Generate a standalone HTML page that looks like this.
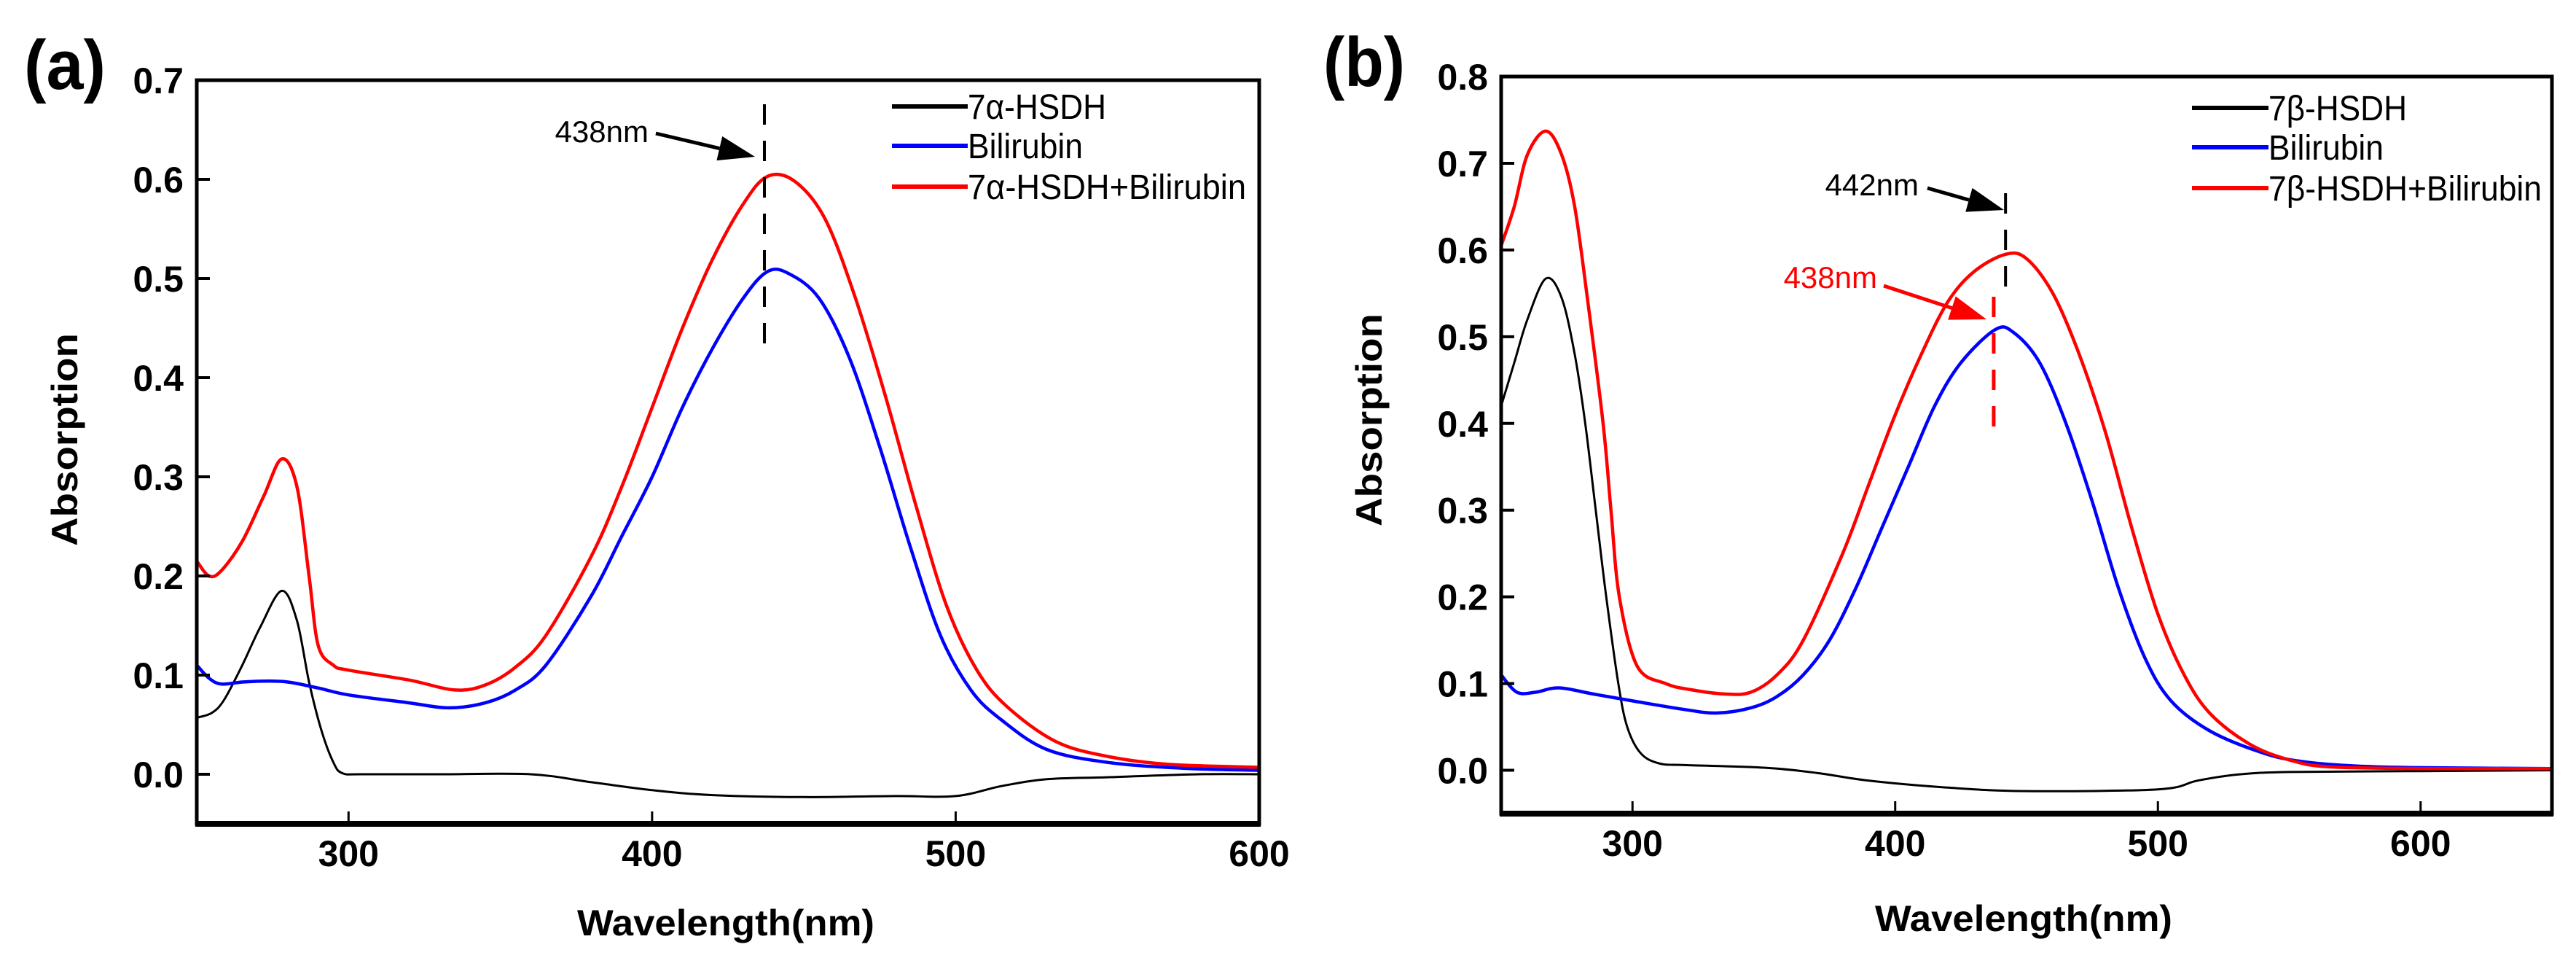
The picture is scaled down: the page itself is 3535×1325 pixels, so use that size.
<!DOCTYPE html>
<html><head><meta charset="utf-8"><style>
html,body{margin:0;padding:0;background:#fff;}
svg{display:block;font-family:"Liberation Sans",Arial,sans-serif;}
</style></head><body>
<svg id="fig" width="3535" height="1325" viewBox="0 0 3535 1325" xmlns="http://www.w3.org/2000/svg"></svg>
<script>
// ---- Panel (a) data ----
const aBlackX=[250,255,259,265,271,278,283,287,291,295,298,305,330,360,380,400,420,450,480,500,515,530,550,580,600];
const aBlackY=[0.057,0.062,0.075,0.11,0.149,0.185,0.155,0.093,0.045,0.012,0.001,0,0,0,-0.008,-0.016,-0.021,-0.023,-0.022,-0.022,-0.012,-0.005,-0.003,0,0];
const aBlueX=[250,254,258,265,272,280,290,300,320,333,345,355,365,380,390,400,410,420,430,438,445,455,465,475,485,495,505,515,530,550,575,600];
const aBlueY=[0.11,0.097,0.091,0.093,0.094,0.093,0.087,0.08,0.072,0.067,0.072,0.085,0.11,0.18,0.24,0.30,0.37,0.43,0.48,0.507,0.505,0.48,0.42,0.33,0.23,0.14,0.085,0.055,0.025,0.012,0.006,0.004];
const aRedX=[250,254,258,265,272,278,283,287,290,295,300,320,335,345,355,365,380,390,400,410,420,430,438,447,457,467,477,487,497,507,517,533,550,570,600];
const aRedY=[0.215,0.2,0.205,0.235,0.28,0.318,0.29,0.2,0.13,0.11,0.105,0.095,0.085,0.09,0.108,0.14,0.22,0.29,0.37,0.45,0.52,0.575,0.603,0.598,0.56,0.48,0.38,0.27,0.17,0.105,0.068,0.033,0.018,0.01,0.007];
// ---- Panel (b) data ----
const bBlackX=[250,255,260,267,273,278,282,286,290,294.6,298,303,310,320,350,370,390,420,450,500,515,530,550,600,650];
const bBlackY=[0.42,0.47,0.52,0.567,0.545,0.48,0.4,0.3,0.2,0.1,0.05,0.02,0.008,0.006,0.003,-0.003,-0.012,-0.02,-0.024,-0.022,-0.012,-0.005,-0.002,-0.001,0];
const bBlueX=[250,256,263,272,285,300,320,332,345,355,365,375,385,395,405,415,425,438,445,455,465,475,485,495,505,520,540,555,575,600,650];
const bBlueY=[0.11,0.09,0.09,0.095,0.088,0.08,0.07,0.066,0.072,0.085,0.11,0.15,0.21,0.28,0.35,0.42,0.47,0.508,0.505,0.47,0.40,0.31,0.21,0.13,0.08,0.045,0.02,0.01,0.005,0.003,0.002];
const bRedX=[250,255,260,267,273,278,283,288.8,291.8,295,301.8,312.6,322,335,345,355,365,380,390,400,410,420,430,442,450,460,470,480,490,500,510,520,535,550,565,600,650];
const bRedY=[0.605,0.65,0.71,0.737,0.71,0.65,0.54,0.4,0.3,0.2,0.12,0.1,0.093,0.088,0.09,0.11,0.15,0.25,0.33,0.41,0.48,0.54,0.575,0.595,0.59,0.55,0.48,0.39,0.28,0.18,0.11,0.065,0.03,0.012,0.004,0.002,0.002];
const aYTicks=["0.0","0.1","0.2","0.3","0.4","0.5","0.6","0.7"];
const bYTicks=["0.0","0.1","0.2","0.3","0.4","0.5","0.6","0.7","0.8"];
const aXTicks=["300","400","500","600"];
const bXTicks=["300","400","500","600"];

const NS="http://www.w3.org/2000/svg";
const svg=document.getElementById('fig');
function mk(tag,attrs,parent,text){const e=document.createElementNS(NS,tag);for(const k in attrs)e.setAttribute(k,attrs[k]);if(text!==undefined)e.textContent=text;(parent||svg).appendChild(e);return e;}
function pathD(X,Y,sx,sy){const p=X.map((x,i)=>[sx(x),sy(Y[i])]);let d="M"+p[0][0].toFixed(1)+","+p[0][1].toFixed(1);
 for(let i=0;i<p.length-1;i++){const p0=p[i-1]||p[i],p1=p[i],p2=p[i+1],p3=p[i+2]||p2;
  const c1=[p1[0]+(p2[0]-p0[0])/6,p1[1]+(p2[1]-p0[1])/6],c2=[p2[0]-(p3[0]-p1[0])/6,p2[1]-(p3[1]-p1[1])/6];
  d+=" C"+c1[0].toFixed(1)+","+c1[1].toFixed(1)+" "+c2[0].toFixed(1)+","+c2[1].toFixed(1)+" "+p2[0].toFixed(1)+","+p2[1].toFixed(1);}
 return d;}

function panel(o){
 const g=mk('g',{});
 
 
 const sx=v=>o.x0+(v-o.xmin)/(o.xmax-o.xmin)*(o.x1-o.x0);
 const sy=v=>o.y1-(v-o.ymin)/(o.ymax-o.ymin)*(o.y1-o.y0);
 // series
 const ser=[[o.bX,o.bY,'#000',3,'series-enzyme'],[o.blX,o.blY,'#0000ff',4.5,'series-bilirubin'],[o.rX,o.rY,'#ff0000',4.5,'series-enzyme-bilirubin']];
 ser.forEach(s=>{const p=mk('path',{d:pathD(s[0],s[1],sx,sy),fill:'none',stroke:s[2],'stroke-width':s[3],'stroke-linejoin':'round'},g);
  
  });
 // frame
 const fr=mk('rect',{x:o.x0,y:o.y0,width:o.x1-o.x0,height:o.y1-o.y0,fill:'none',stroke:'#000','stroke-width':5},g);
 
 
 mk('line',{x1:o.x0-2,x2:o.x1+2,y1:o.y1,y2:o.y1,stroke:'#000','stroke-width':8},g);
 // y ticks
 o.yt.forEach(t=>{const v=parseFloat(t),y=sy(v);
  mk('line',{x1:o.x0,x2:o.x0+18,y1:y,y2:y,stroke:'#000','stroke-width':4},g);
  const tx=mk('text',{x:o.x0-18,y:y+18,'font-size':50,'font-weight':'bold','text-anchor':'end'},g,t);
  
  });
 o.xt.forEach(t=>{const v=parseFloat(t),x=sx(v);
  mk('line',{x1:x,x2:x,y1:o.y1,y2:o.y1-17,stroke:'#000','stroke-width':3},g);
  const tx=mk('text',{x:x,y:o.y1+58,'font-size':50,'font-weight':'bold','text-anchor':'middle'},g,t);
  
  });
 const xtl=mk('text',{x:o.xtc,y:o.xty,'font-size':50,'font-weight':'bold','text-anchor':'middle',textLength:408,lengthAdjust:'spacingAndGlyphs'},g,'Wavelength(nm)');
 
 
 const ytl=mk('text',{x:0,y:0,'font-size':50,'font-weight':'bold','text-anchor':'middle',textLength:292,lengthAdjust:'spacingAndGlyphs',transform:`translate(${o.ytx},${o.yty}) rotate(-90)`},g,'Absorption');
 
 
 const pl=mk('text',{x:o.plx,y:o.ply,'font-size':96,'font-weight':'bold',textLength:112,lengthAdjust:'spacingAndGlyphs'},g,o.pl);
 
 
 // legend
 const names=o.leg, cols=['#000','#0000ff','#ff0000'], ws=[6,6,6];
 o.legY.forEach((ly,i)=>{const lg=mk('g',{},g);
  
  
  mk('line',{x1:o.legX0,x2:o.legX1,y1:ly,y2:ly,stroke:cols[i],'stroke-width':ws[i]},lg);
  mk('text',{x:o.legX1,y:ly+17,'font-size':48,textLength:o.legW[i],lengthAdjust:'spacingAndGlyphs'},lg,names[i]);});
 // annotations
 o.ann.forEach(a=>{const ag=mk('g',{},g);
  
  
  const x=sx(a.wl);
  mk('line',{x1:x,x2:x,y1:a.d0,y2:a.d1,stroke:a.c,'stroke-width':a.c=='#000'?4:5,'stroke-dasharray':'28,22'},ag);
  mk('text',{x:a.tx,y:a.ty,'font-size':42,'text-anchor':'end',fill:a.c},ag,a.t);
  const ex=a.ax1,ey=a.ay1,sx0=a.ax0,sy0=a.ay0,ang=Math.atan2(ey-sy0,ex-sx0),L=50,W=17;
  const bx=ex-L*Math.cos(ang),by=ey-L*Math.sin(ang);
  mk('line',{x1:sx0,y1:sy0,x2:bx,y2:by,stroke:a.c,'stroke-width':5},ag);
  mk('polygon',{points:`${ex},${ey} ${bx+W*Math.sin(ang)},${by-W*Math.cos(ang)} ${bx-W*Math.sin(ang)},${by+W*Math.cos(ang)}`,fill:a.c},ag);
 });
}

panel({name:'panel-a',x0:270,x1:1728,y0:110,y1:1130,xmin:250,xmax:600,ymin:-0.05,ymax:0.7,
 bX:aBlackX,bY:aBlackY,blX:aBlueX,blY:aBlueY,rX:aRedX,rY:aRedY,yt:aYTicks,xt:aXTicks,
 xtc:996,xty:1283,ytx:106,yty:603,pl:'(a)',plx:33,ply:122,
 leg:['7α-HSDH','Bilirubin','7α-HSDH+Bilirubin'],legX0:1224,legX1:1328,legY:[146,200,256],legW:[190,158,382],
 ann:[{wl:437,d0:143,d1:480,c:'#000',t:'438nm',tx:890,ty:195,ax0:900,ay0:183,ax1:1036,ay1:215}]});
panel({name:'panel-b',x0:2060,x1:3502,y0:105,y1:1116,xmin:250,xmax:650,ymin:-0.05,ymax:0.8,
 bX:bBlackX,bY:bBlackY,blX:bBlueX,blY:bBlueY,rX:bRedX,rY:bRedY,yt:bYTicks,xt:bXTicks,
 xtc:2777,xty:1277,ytx:1896,yty:576,pl:'(b)',plx:1816,ply:118,
 leg:['7β-HSDH','Bilirubin','7β-HSDH+Bilirubin'],legX0:3008,legX1:3113,legY:[148,202,258],legW:[190,158,375],
 ann:[{wl:442,d0:265,d1:395,c:'#000',t:'442nm',tx:2633,ty:268,ax0:2645,ay0:258,ax1:2750,ay1:288},
      {wl:437.5,d0:407,d1:590,c:'#ff0000',t:'438nm',tx:2576,ty:395,ax0:2585,ay0:392,ax1:2726,ay1:438}]});
</script>
</body></html>
